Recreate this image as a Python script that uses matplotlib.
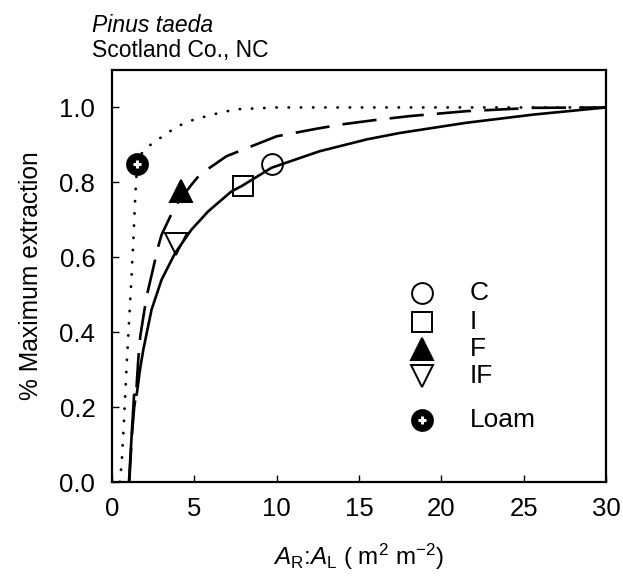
import matplotlib
matplotlib.use("Agg")
import matplotlib.pyplot as plt

plt.rcParams['font.family'] = ['Liberation Sans', 'DejaVu Sans']
plt.rcParams['mathtext.fontset'] = 'custom'
plt.rcParams['mathtext.rm'] = 'Liberation Sans'
plt.rcParams['mathtext.it'] = 'Liberation Sans:italic'

# Observed points
pt_C = (9.7, 0.85)
pt_I = (7.93, 0.79)
pt_F = (4.22, 0.776)
pt_IF = (3.86, 0.636)
pt_Loam = (1.5, 0.85)

# Fitted curves
solid_x = [1.03, 1.2, 1.34, 1.5, 1.7, 1.9, 2.4, 3.01, 3.83, 4.83, 5.85, 7.26, 7.87, 9.69,
           12.6, 15.5, 17.5, 21.5, 25.6, 30]
solid_y = [0.0, 0.13, 0.233, 0.233, 0.30, 0.353, 0.46, 0.54, 0.611, 0.674, 0.723, 0.776, 0.79,
           0.839, 0.883, 0.915, 0.932, 0.959, 0.981, 1.0]

dash_x = [1.05, 1.2, 1.35, 1.46, 1.6, 1.72, 2.1, 2.81, 3.01, 3.83, 4.83, 5.34, 6.96, 10, 12.4,
          14, 15.9, 18.1, 21.5, 25.6, 30]
dash_y = [0.0, 0.12, 0.2, 0.233, 0.33, 0.39, 0.495, 0.629, 0.66, 0.736, 0.794, 0.821, 0.87,
          0.923, 0.943, 0.955, 0.966, 0.977, 0.99, 0.999, 1.0]

dot_x = [0.48, 0.6, 0.7, 0.8, 0.9, 1.0, 1.1, 1.2, 1.3, 1.4, 1.5, 1.7, 2.0, 2.5, 3.3, 4.0, 4.8,
         5.6, 6.3, 7.5, 10, 30]
dot_y = [0.0, 0.06, 0.14, 0.23, 0.32, 0.40, 0.48, 0.56, 0.65, 0.75, 0.83, 0.87, 0.89, 0.905,
         0.93, 0.95, 0.965, 0.975, 0.983, 0.995, 1.0, 1.0]

xticks = [0, 5, 10, 15, 20, 25, 30]
yticks = [0.0, 0.2, 0.4, 0.6, 0.8, 1.0]
legend_labels = ['C', 'I', 'F', 'IF', 'Loam']

fig = plt.figure(figsize=(6.23, 5.85), dpi=100)
ax = fig.add_axes([112/623, 1-482/585, (606-112)/623, (482-70)/585])

lw = 1.9
ax.plot(solid_x, solid_y, color='black', lw=lw, solid_capstyle='butt', solid_joinstyle='round', zorder=2)
ax.plot(dash_x, dash_y, color='black', lw=lw, linestyle=(0, (13, 5)), dash_capstyle='butt',
        dash_joinstyle='round', zorder=2)
ax.plot(dot_x, dot_y, color='black', lw=2.0, linestyle=(0, (0.1, 4.3)), dash_capstyle='round', zorder=2)

styles = {
    'C': dict(marker='o', ms=15, mfc='none'),
    'I': dict(marker='s', ms=14.5, mfc='none'),
    'F': dict(marker='^', ms=16, mfc='black'),
    'IF': dict(marker='v', ms=16, mfc='none'),
    'Loam': dict(marker='o', ms=15, mfc='black'),
}
points = {'C': pt_C, 'I': pt_I, 'F': pt_F, 'IF': pt_IF, 'Loam': pt_Loam}

for lab in legend_labels:
    x, y = points[lab]
    ax.plot([x], [y], mec='black', mew=1.4, linestyle='none', zorder=3, **styles[lab])
    if lab == 'Loam':
        ax.plot([x], [y], marker='+', ms=6, mew=2.2, color='white', linestyle='none', zorder=4)

# Legend (manual)
leg_y = [0.459, 0.388, 0.323, 0.257, 0.150]
mx, tx = 310/494, 358/494
for lab, yy in zip(legend_labels, leg_y):
    ax.plot([mx], [yy], mec='black', mew=1.4, linestyle='none',
            transform=ax.transAxes, zorder=3, clip_on=False, **styles[lab])
    if lab == 'Loam':
        ax.plot([mx], [yy], marker='+', ms=6, mew=2.2, color='white', linestyle='none',
                transform=ax.transAxes, zorder=4)
    ax.text(tx, yy, lab, transform=ax.transAxes, fontsize=19, va='center', ha='left')

ax.set_xlim(0, 30)
ax.set_ylim(0, 1.1)
ax.set_xticks(xticks)
ax.set_yticks(yticks)
ax.set_xticklabels([str(v) for v in xticks])
ax.set_yticklabels([f'{v:.1f}' for v in yticks])
ax.tick_params(direction='in', length=5, width=1.0, labelsize=18.5, top=False, right=False)
ax.tick_params(axis='x', pad=11)
ax.tick_params(axis='y', pad=12)
for s in ax.spines.values():
    s.set_linewidth(1.6)

ax.set_ylabel('% Maximum extraction', fontsize=17.7, labelpad=12)
ax.set_xlabel(r'$\mathit{A}_{\mathrm{R}}$:$\mathit{A}_{\mathrm{L}}$ ( m$^{2}$ m$^{-2}$)', fontsize=17.5, labelpad=15)

fig.text(92/623, 1-32/585, 'Pinus taeda', fontsize=16.5, style='italic', ha='left', va='baseline')
fig.text(92/623, 1-57/585, 'Scotland Co., NC', fontsize=16.5, ha='left', va='baseline')

fig.savefig('out.png', dpi=100)
